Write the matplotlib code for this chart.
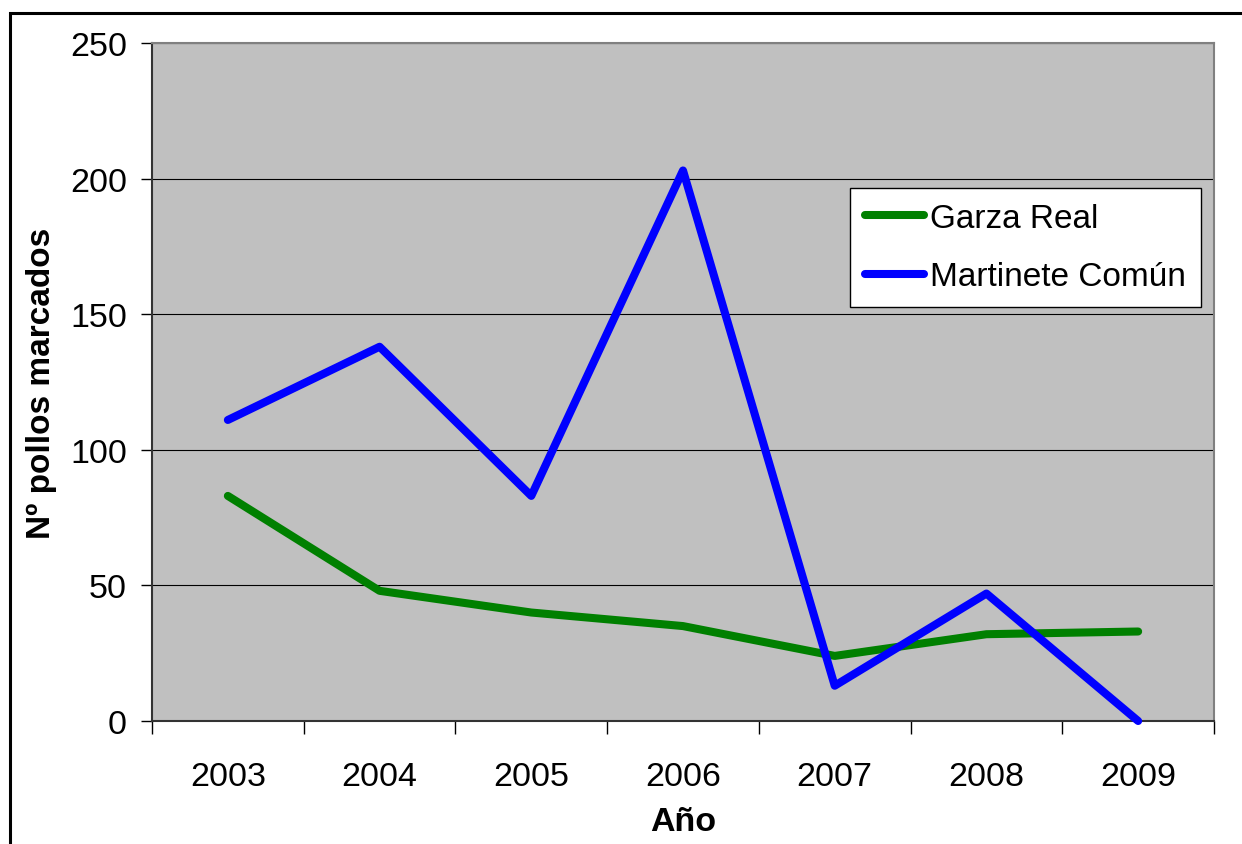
#!/usr/bin/env python3

import matplotlib
import numpy as np

matplotlib.use('Agg')
import matplotlib.pyplot as plt
from matplotlib.patches import Rectangle

years = ['2003', '2004', '2005', '2006', '2007', '2008', '2009']
garza_real = [83, 48, 40, 35, 24, 32, 33]
martinete = [111, 138, 83, 203, 13, 47, 0]
y_ticks = [0, 50, 100, 150, 200, 250]


def run():
    plt.rcParams['font.family'] = ['Liberation Sans', 'DejaVu Sans']
    fig = plt.figure(figsize=(12.42, 8.45), dpi=100)
    ax = fig.add_axes([152 / 1242, 1 - 722 / 845, 1062 / 1242, 678 / 845])
    ax.set_facecolor('#c0c0c0')

    x = np.arange(len(years))
    ax.plot(x, garza_real, color='#008000', lw=5.8, solid_capstyle='round',
            label='Garza Real', clip_on=False, zorder=3)
    ax.plot(x, martinete, color='#0000ff', lw=5.8, solid_capstyle='round',
            label='Martinete Común', clip_on=False, zorder=3)

    ax.set_xlim(-0.5, len(years) - 0.5)
    ax.set_ylim(0, 250)
    ax.set_yticks(y_ticks)
    ax.yaxis.grid(True, color='black', lw=0.8)
    ax.set_axisbelow(True)

    ax.set_xticks(x)
    ax.set_xticklabels(years)
    ax.set_xticks(np.arange(len(years) + 1) - 0.5, minor=True)
    ax.tick_params(axis='x', which='major', length=0, pad=29, labelsize=24.5)
    ax.tick_params(axis='x', which='minor', length=9, width=1, direction='out')
    ax.tick_params(axis='y', length=8, width=1, direction='out', pad=10, labelsize=24.5)

    for side in ('top', 'right'):
        ax.spines[side].set_color('#808080')
        ax.spines[side].set_linewidth(1.5)
    for side in ('left', 'bottom'):
        ax.spines[side].set_color('#333333')
        ax.spines[side].set_linewidth(1.5)

    ax.set_xlabel('Año', fontsize=24.5, fontweight='bold', labelpad=10)
    ax.set_ylabel('Nº pollos marcados', fontsize=24, fontweight='bold', labelpad=9)

    leg = ax.legend(loc='upper right', bbox_to_anchor=(0.988, 0.786), fontsize=24,
                    frameon=True, fancybox=False, edgecolor='black', framealpha=1,
                    handlelength=1.75, handletextpad=0.2, borderpad=0.45,
                    labelspacing=0.82, borderaxespad=0)
    leg.get_frame().set_linewidth(1)

    # outer chart border (cropped at right and bottom)
    fig.patches.append(Rectangle((9.5 / 1242, -0.1), 1.2, 1 - 13.5 / 845 + 0.1,
                                 transform=fig.transFigure, fill=False,
                                 edgecolor='black', lw=2.2))

    fig.savefig('out.png', dpi=100)


if __name__ == "__main__":
    run()
